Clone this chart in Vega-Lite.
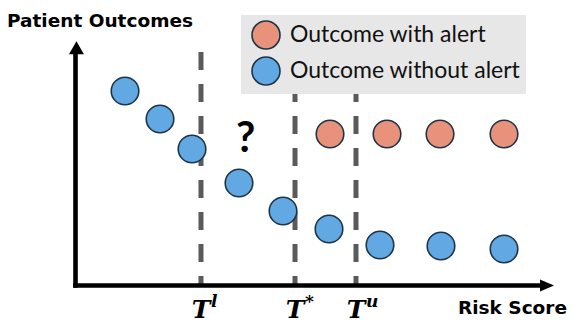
{
  "$schema": "https://vega.github.io/schema/vega-lite/v6.json",
  "width": 579,
  "height": 334,
  "autosize": {"type": "fit", "contains": "padding"},
  "padding": 0,
  "background": "white",
  "config": {"view": {"stroke": null}},
  "datasets": {
    "points": [
      {"risk": 1.037, "outcome": 7.955, "group": "Outcome without alert"},
      {"risk": 1.770, "outcome": 6.810, "group": "Outcome without alert"},
      {"risk": 2.440, "outcome": 5.583, "group": "Outcome without alert"},
      {"risk": 3.424, "outcome": 4.192, "group": "Outcome without alert"},
      {"risk": 4.346, "outcome": 3.047, "group": "Outcome without alert"},
      {"risk": 5.309, "outcome": 2.311, "group": "Outcome without alert"},
      {"risk": 6.377, "outcome": 1.656, "group": "Outcome without alert"},
      {"risk": 7.654, "outcome": 1.616, "group": "Outcome without alert"},
      {"risk": 8.974, "outcome": 1.493, "group": "Outcome without alert"},
      {"risk": 5.330, "outcome": 6.196, "group": "Outcome with alert"},
      {"risk": 6.524, "outcome": 6.196, "group": "Outcome with alert"},
      {"risk": 7.634, "outcome": 6.196, "group": "Outcome with alert"},
      {"risk": 8.974, "outcome": 6.196, "group": "Outcome with alert"}
    ],
    "thresholds": [
      {"risk": 2.628, "top": 9.55, "bottom": 0, "base": "T", "sup": "l", "labelY": -1.309, "supY": -0.879},
      {"risk": 4.597, "top": 9.55, "bottom": 0, "base": "T", "sup": "*", "labelY": -1.309, "supY": -0.879},
      {"risk": 5.874, "top": 9.55, "bottom": 0, "base": "T", "sup": "u", "labelY": -1.309, "supY": -0.879}
    ],
    "axes": [
      {"risk": 0, "outcome": 0, "risk2": 9.7, "outcome2": 0, "dir": "x"},
      {"risk": 0, "outcome": 0, "risk2": 0, "outcome2": 9.5, "dir": "y"}
    ],
    "heads": [
      {"risk": 9.874, "outcome": 0, "dir": "x"},
      {"risk": 0.02, "outcome": 9.726, "dir": "y"}
    ],
    "labels": [
      {"risk": -1.435, "outcome": 10.573, "label": "Patient Outcomes", "kind": "ytitle"},
      {"risk": 10.293, "outcome": -1.166, "label": "Risk Score", "kind": "xtitle"},
      {"risk": 3.564, "outcome": 5.448, "label": "?", "kind": "question"}
    ]
  },
  "layer": [
    {
      "data": {"name": "thresholds"},
      "mark": {"type": "rule", "color": "#5a5a5a", "strokeWidth": 5, "strokeDash": [18, 14]},
      "encoding": {
        "x": {"field": "risk", "type": "quantitative", "scale": {"domain": [-1.5812, 10.5445], "nice": false, "zero": false}, "axis": null},
        "y": {"field": "top", "type": "quantitative", "scale": {"domain": [-1.9836, 11.6769], "nice": false, "zero": false}, "axis": null},
        "y2": {"field": "bottom"}
      }
    },
    {
      "data": {"name": "axes"},
      "mark": {"type": "rule", "color": "black", "strokeWidth": 4.6, "strokeCap": "square"},
      "encoding": {
        "x": {"field": "risk", "type": "quantitative", "scale": {"domain": [-1.5812, 10.5445], "nice": false, "zero": false}, "axis": null},
        "x2": {"field": "risk2"},
        "y": {"field": "outcome", "type": "quantitative", "scale": {"domain": [-1.9836, 11.6769], "nice": false, "zero": false}, "axis": null},
        "y2": {"field": "outcome2"}
      }
    },
    {
      "data": {"name": "heads"},
      "mark": {"type": "point", "filled": true, "color": "black", "opacity": 1, "size": 196},
      "encoding": {
        "x": {"field": "risk", "type": "quantitative", "scale": {"domain": [-1.5812, 10.5445], "nice": false, "zero": false}, "axis": null},
        "y": {"field": "outcome", "type": "quantitative", "scale": {"domain": [-1.9836, 11.6769], "nice": false, "zero": false}, "axis": null},
        "shape": {"field": "dir", "type": "nominal", "scale": {"domain": ["x", "y"], "range": ["M1,0L-1,-0.86L-1,0.86Z", "M0,-0.93L1.07,0.93L-1.07,0.93Z"]}, "legend": null}
      }
    },
    {
      "data": {"name": "points"},
      "mark": {"type": "point", "shape": "circle", "filled": true, "size": 760, "opacity": 1, "stroke": "#1d3446", "strokeWidth": 1.6},
      "encoding": {
        "x": {"field": "risk", "type": "quantitative", "scale": {"domain": [-1.5812, 10.5445], "nice": false, "zero": false}, "axis": null},
        "y": {"field": "outcome", "type": "quantitative", "scale": {"domain": [-1.9836, 11.6769], "nice": false, "zero": false}, "axis": null},
        "fill": {
          "field": "group",
          "type": "nominal",
          "scale": {"domain": ["Outcome with alert", "Outcome without alert"], "range": ["#e8927c", "#62a9e4"]},
          "legend": {
            "orient": "none",
            "legendX": 241,
            "legendY": 15,
            "title": null,
            "fillColor": "#e7e7e7",
            "padding": 5,
            "symbolOffset": 5,
            "labelOffset": 9,
            "rowPadding": 0,
            "symbolSize": 784,
            "symbolType": "circle",
            "symbolStrokeColor": "#1d3446",
            "symbolStrokeWidth": 1.6,
            "symbolOpacity": 1,
            "labelFont": "Lato",
            "labelFontSize": 23,
            "labelColor": "#111111",
            "labelLimit": 400
          }
        }
      }
    },
    {
      "data": {"name": "thresholds"},
      "mark": {"type": "text", "font": "DejaVu Serif", "fontSize": 25, "fontWeight": "bold", "fontStyle": "italic", "align": "center", "baseline": "alphabetic", "color": "black"},
      "encoding": {
        "x": {"field": "risk", "type": "quantitative", "scale": {"domain": [-1.5812, 10.5445], "nice": false, "zero": false}, "axis": null},
        "y": {"field": "labelY", "type": "quantitative", "scale": {"domain": [-1.9836, 11.6769], "nice": false, "zero": false}, "axis": null},
        "text": {"field": "base"}
      }
    },
    {
      "data": {"name": "thresholds"},
      "mark": {"type": "text", "font": "DejaVu Serif", "fontSize": 17, "fontWeight": "bold", "fontStyle": "italic", "align": "left", "baseline": "alphabetic", "dx": 10, "color": "black"},
      "encoding": {
        "x": {"field": "risk", "type": "quantitative", "scale": {"domain": [-1.5812, 10.5445], "nice": false, "zero": false}, "axis": null},
        "y": {"field": "supY", "type": "quantitative", "scale": {"domain": [-1.9836, 11.6769], "nice": false, "zero": false}, "axis": null},
        "text": {"field": "sup"}
      }
    },
    {
      "data": {"name": "labels"},
      "transform": [{"filter": "datum.kind === 'ytitle'"}],
      "mark": {"type": "text", "font": "DejaVu Sans", "fontSize": 18.5, "fontWeight": "bold", "align": "left", "baseline": "alphabetic", "color": "black"},
      "encoding": {
        "x": {"field": "risk", "type": "quantitative", "scale": {"domain": [-1.5812, 10.5445], "nice": false, "zero": false}, "axis": null},
        "y": {"field": "outcome", "type": "quantitative", "scale": {"domain": [-1.9836, 11.6769], "nice": false, "zero": false}, "axis": null},
        "text": {"field": "label"}
      }
    },
    {
      "data": {"name": "labels"},
      "transform": [{"filter": "datum.kind === 'xtitle'"}],
      "mark": {"type": "text", "font": "DejaVu Sans", "fontSize": 18.5, "fontWeight": "bold", "align": "right", "baseline": "alphabetic", "color": "black"},
      "encoding": {
        "x": {"field": "risk", "type": "quantitative", "scale": {"domain": [-1.5812, 10.5445], "nice": false, "zero": false}, "axis": null},
        "y": {"field": "outcome", "type": "quantitative", "scale": {"domain": [-1.9836, 11.6769], "nice": false, "zero": false}, "axis": null},
        "text": {"field": "label"}
      }
    },
    {
      "data": {"name": "labels"},
      "transform": [{"filter": "datum.kind === 'question'"}],
      "mark": {"type": "text", "font": "Lato", "fontSize": 42, "fontWeight": "bold", "align": "center", "baseline": "alphabetic", "color": "black"},
      "encoding": {
        "x": {"field": "risk", "type": "quantitative", "scale": {"domain": [-1.5812, 10.5445], "nice": false, "zero": false}, "axis": null},
        "y": {"field": "outcome", "type": "quantitative", "scale": {"domain": [-1.9836, 11.6769], "nice": false, "zero": false}, "axis": null},
        "text": {"field": "label"}
      }
    }
  ]
}
